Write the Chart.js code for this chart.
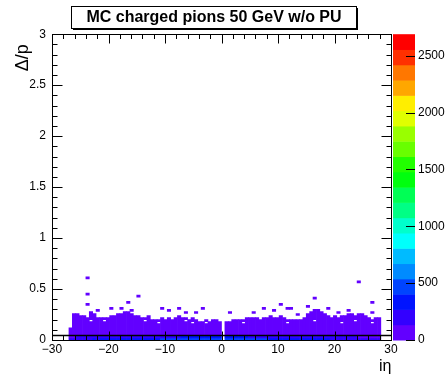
<!DOCTYPE html>
<html>
<head>
<meta charset="utf-8">
<title>MC charged pions 50 GeV w/o PU</title>
<script src="https://cdn.jsdelivr.net/npm/chart.js@4.4.1/dist/chart.umd.min.js"></script>
<style>
  html, body { margin: 0; padding: 0; background: #fff; }
</style>
</head>
<body>
<canvas id="chart-dp" width="446" height="376"></canvas>
<script>
// Δ/p versus iη colour map (ROOT COLZ style) built from floating bars

const ETA_MIN = -27.0;   // lower edge of the first filled iη bin
const ETA_BIN = 0.6;
const DP_BIN = 0.02;
const Z_MAX = 2690;
const N_LEVELS = 20;

// upper edge of the dense band in each iη bin (0 = empty bin)
const bandTop = [
  0.12, 0.26, 0.26, 0.24, 0.24, 0.22, 0.28, 0.26, 0.22, 0.22,
  0.22, 0.22, 0.24, 0.24, 0.26, 0.26, 0.28, 0.28, 0.26, 0.24,
  0.24, 0.22, 0.22, 0.24, 0.20, 0.20, 0.20, 0.22, 0.20, 0.22,
  0.20, 0.22, 0.24, 0.22, 0.22, 0.20, 0.22, 0.20, 0.18, 0.18,
  0.20, 0.18, 0.20, 0.20, 0.18, 0, 0.18, 0.18, 0.20, 0.20,
  0.20, 0.20, 0.22, 0.22, 0.22, 0.22, 0.20, 0.22, 0.22, 0.24,
  0.22, 0.22, 0.24, 0.22, 0.20, 0.20, 0.20, 0.20, 0.20, 0.22,
  0.26, 0.28, 0.30, 0.30, 0.28, 0.26, 0.24, 0.22, 0.24, 0.22,
  0.24, 0.24, 0.26, 0.26, 0.24, 0.26, 0.26, 0.24, 0.22, 0.20,
  0.22, 0.22
];
const bandCount = 40;

// entries in the lowest Δ/p row [0, 0.02) per iη bin
const row0Counts = [
  180, 210, 230, 240, 250, 260, 255, 270, 265, 280,
  290, 300, 310, 305, 320, 330, 325, 340, 350, 345,
  360, 370, 380, 375, 390, 400, 395, 410, 420, 415,
  430, 440, 435, 450, 455, 460, 450, 470, 465, 480,
  470, 480, 460, 470, 450, 0, 450, 470, 480, 470,
  460, 465, 450, 440, 445, 430, 420, 425, 410, 400,
  395, 380, 385, 370, 360, 350, 345, 330, 320, 325,
  310, 300, 295, 290, 280, 275, 270, 265, 260, 250,
  245, 240, 235, 230, 225, 220, 215, 210, 200, 195,
  185, 170
];

// entries in the second row [0.02, 0.04) per iη bin
const row1Counts = [
  110, 130, 140, 150, 150, 160, 155, 165, 160, 170,
  175, 180, 190, 185, 195, 200, 195, 205, 210, 210,
  215, 220, 230, 225, 235, 240, 240, 245, 250, 250,
  260, 265, 260, 270, 275, 275, 270, 280, 280, 285,
  280, 285, 275, 280, 270, 0, 270, 280, 285, 280,
  275, 280, 270, 265, 265, 260, 250, 255, 245, 240,
  235, 230, 230, 220, 215, 210, 205, 200, 195, 195,
  185, 180, 175, 175, 170, 165, 160, 160, 155, 150,
  145, 145, 140, 140, 135, 130, 130, 125, 120, 115,
  110, 100
];

// isolated cells above the band: [iη, Δ/p]
const strayCells = [
  [-23.6, 0.60], [-23.6, 0.44], [-23.6, 0.34], [-14.5, 0.42], [-16.5, 0.36],
  [-10.5, 0.30], [-19.4, 0.30], [-17.6, 0.30], [-7.6, 0.30], [-21.8, 0.28],
  [-16.2, 0.28], [-9.6, 0.28], [-6.4, 0.26], [-3.5, 0.30], [-4.5, 0.26],
  [1.4, 0.26], [24.5, 0.56], [16.5, 0.40], [26.6, 0.36], [10.5, 0.34],
  [7.7, 0.30], [12.1, 0.30], [15.5, 0.32], [18.6, 0.30], [5.5, 0.26],
  [9.5, 0.28], [22.4, 0.28], [20.6, 0.26], [26.9, 0.26], [13.3, 0.24],
  [11.5, 0.30]
];

// empty cells inside the band: [iη, Δ/p]
const emptyCells = [
  [-23.4, 0.18], [-20.5, 0.18], [-13.8, 0.18], [-11.3, 0.16], [-6.4, 0.18],
  [-5.4, 0.16], [-2.7, 0.16], [3.8, 0.16], [11.5, 0.16], [16.4, 0.18],
  [21.3, 0.16], [23.4, 0.18], [26.6, 0.16]
];

// horizontal reference line
const refLineEta = [-30, 30];
const refLineDp = [0.045, 0.045];

const zTicks = [0, 500, 1000, 1500, 2000, 2500];

// ROOT "pretty" palette sampled at 20 contour levels
const PALETTE = [
  "#6200ff", "#3300ff", "#0014ff", "#0044ff", "#008bff",
  "#00bbff", "#00fffc", "#00ffcc", "#00ff85", "#00ff55",
  "#00ff0e", "#22ff00", "#69ff00", "#99ff00", "#e0ff00",
  "#ffee00", "#ffa700", "#ff7700", "#ff3000", "#ff0000",
];

const FONT = '"Liberation Sans", Arial, Helvetica, sans-serif';

function binCenter(i) {
  return ETA_MIN + ETA_BIN * (i + 0.5);
}

function binOf(eta) {
  return Math.floor((eta - ETA_MIN) / ETA_BIN);
}

function rowLow(dp) {
  return Math.floor(dp / DP_BIN + 1e-6) * DP_BIN;
}

function levelColor(z) {
  const step = Z_MAX / N_LEVELS;
  return PALETTE[Math.max(0, Math.min(N_LEVELS - 1, Math.floor(z / step)))];
}

// dense band: one bar per contiguous run of filled cells in a column
const bandCells = [];
bandTop.forEach((top, i) => {
  if (!top) return;
  const holes = emptyCells
    .filter((c) => binOf(c[0]) === i)
    .map((c) => rowLow(c[1]))
    .sort((a, b) => a - b);
  let lo = 2 * DP_BIN;
  holes.forEach((h) => {
    if (h > lo) bandCells.push({ x: binCenter(i), y: [lo, h], z: bandCount });
    lo = h + DP_BIN;
  });
  if (top > lo) bandCells.push({ x: binCenter(i), y: [lo, top], z: bandCount });
});

const lowCells = [];
row0Counts.forEach((n, i) => {
  if (n) lowCells.push({ x: binCenter(i), y: [0, DP_BIN], z: n });
});
row1Counts.forEach((n, i) => {
  if (n) lowCells.push({ x: binCenter(i), y: [DP_BIN, 2 * DP_BIN], z: n });
});

const strayData = strayCells.map(([eta, dp]) => ({
  x: binCenter(binOf(eta)),
  y: [rowLow(dp), rowLow(dp) + DP_BIN],
  z: 2,
}));

const cellColor = (ctx) => levelColor(ctx.raw ? ctx.raw.z : 0);

const barStyle = {
  type: "bar",
  grouped: false,
  barPercentage: 1,
  categoryPercentage: 1,
  borderWidth: 0,
  backgroundColor: cellColor,
  order: 1,
};

// frame, inward ticks, palette bar and titles
const rootFrame = {
  id: "rootFrame",
  afterDraw(chart) {
    const { ctx, chartArea: a } = chart;
    const { x, y, z } = chart.scales;
    const L = Math.round(a.left) + 0.5;
    const R = Math.round(a.right) + 0.5;
    const T = Math.round(a.top) + 0.5;
    const B = Math.round(a.bottom) + 0.5;

    ctx.save();

    // palette bar
    const step = Z_MAX / N_LEVELS;
    const cbL = Math.round(a.right) + 2;
    const cbW = 22;
    for (let j = 0; j < N_LEVELS; j++) {
      const y0 = z.getPixelForValue(j * step);
      const y1 = z.getPixelForValue((j + 1) * step);
      ctx.fillStyle = PALETTE[j];
      ctx.fillRect(cbL, y1, cbW, y0 - y1 + 0.5);
    }

    ctx.strokeStyle = "#000";
    ctx.lineWidth = 1;
    ctx.strokeRect(L, T, R - L, B - T);

    ctx.beginPath();
    for (let v = x.min; v <= x.max + 1e-9; v += 2) {
      const px = Math.round(x.getPixelForValue(v)) + 0.5;
      const len = Math.abs(v % 10) < 1e-9 ? 9 : 4.5;
      ctx.moveTo(px, B);
      ctx.lineTo(px, B - len);
      ctx.moveTo(px, T);
      ctx.lineTo(px, T + len);
    }
    for (let i = 0; i <= 30; i++) {
      const py = Math.round(y.getPixelForValue(i * 0.1)) + 0.5;
      const len = i % 5 === 0 ? 10 : 5;
      ctx.moveTo(L, py);
      ctx.lineTo(L + len, py);
      ctx.moveTo(R, py);
      ctx.lineTo(R - len, py);
    }
    zTicks.forEach((v) => {
      const py = Math.round(z.getPixelForValue(v)) + 0.5;
      ctx.moveTo(cbL + cbW, py);
      ctx.lineTo(cbL + cbW - 9, py);
    });
    ctx.stroke();

    // title box with shadow
    ctx.fillStyle = "#fff";
    ctx.fillRect(72, 7, 284, 21);
    ctx.strokeRect(71.5, 6.5, 285, 22);
    ctx.fillStyle = "#000";
    ctx.fillRect(357, 8, 1, 22);
    ctx.fillRect(73, 29, 285, 1);

    ctx.fillStyle = "#000";
    ctx.font = "bold 16px " + FONT;
    ctx.textAlign = "center";
    ctx.textBaseline = "middle";
    ctx.fillText("MC charged pions 50 GeV w/o PU", 214, 18);

    // axis titles
    ctx.font = "16px " + FONT;
    ctx.textAlign = "right";
    ctx.textBaseline = "alphabetic";
    ctx.fillText("iη", R, 371);

    ctx.font = "18px " + FONT;
    ctx.translate(28, a.top + 10);
    ctx.rotate(-Math.PI / 2);
    ctx.textAlign = "right";
    ctx.textBaseline = "alphabetic";
    ctx.fillText("Δ/p", 0, 0);

    ctx.restore();
  },
};

const tickFont = { family: FONT, size: 12 };

new Chart(document.getElementById("chart-dp"), {
  type: "bar",
  data: {
    datasets: [
      {
        type: "line",
        label: "reference",
        data: refLineEta.map((v, i) => ({ x: v, y: refLineDp[i] })),
        borderColor: "#000",
        borderWidth: 1.5,
        pointRadius: 0,
        order: 0,
      },
      { ...barStyle, label: "stray", data: strayData },
      { ...barStyle, label: "low rows", data: lowCells },
      { ...barStyle, label: "band", data: bandCells },
    ],
  },
  options: {
    responsive: false,
    animation: false,
    events: [],
    layout: { padding: { top: 33, left: 0, right: 0, bottom: 0 } },
    plugins: {
      legend: { display: false },
      tooltip: { enabled: false },
      title: { display: false },
    },
    scales: {
      x: {
        type: "linear",
        min: -30,
        max: 30,
        offset: false,
        grid: { display: false, drawTicks: false },
        border: { display: false },
        ticks: {
          stepSize: 10,
          padding: 2,
          color: "#000",
          font: tickFont,
          maxRotation: 0,
          autoSkip: false,
          callback: (v) => (v < 0 ? "\u2212" + -v : String(v)),
        },
        afterFit: (s) => {
          s.height = 36;
        },
      },
      y: {
        type: "linear",
        min: 0,
        max: 3,
        grid: { display: false, drawTicks: false },
        border: { display: false },
        ticks: {
          stepSize: 0.5,
          padding: 6,
          color: "#000",
          font: tickFont,
          callback: (v) => String(Math.round(v * 10) / 10),
        },
        afterFit: (s) => {
          s.width = 52;
        },
      },
      z: {
        type: "linear",
        position: "right",
        min: 0,
        max: Z_MAX,
        grid: { display: false, drawTicks: false },
        border: { display: false },
        afterBuildTicks: (s) => {
          s.ticks = zTicks.map((v) => ({ value: v }));
        },
        ticks: {
          padding: 27,
          color: "#000",
          font: tickFont,
          autoSkip: false,
          callback: (v) => String(v),
        },
        afterFit: (s) => {
          s.width = 55;
        },
      },
    },
  },
  plugins: [rootFrame],
});
</script>
</body>
</html>
